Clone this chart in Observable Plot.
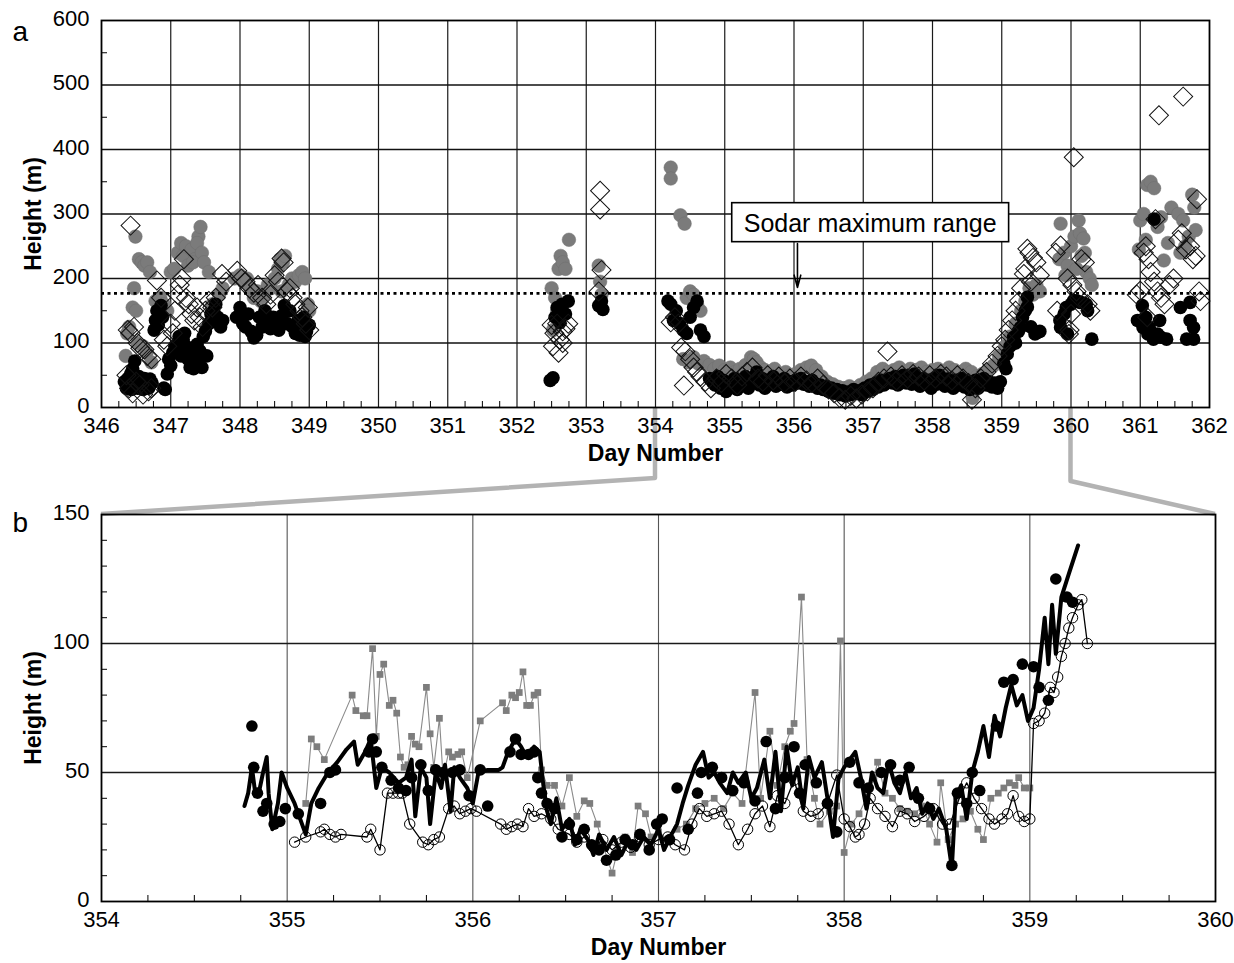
<!DOCTYPE html>
<html>
<head>
<meta charset="utf-8">
<script src="https://cdn.jsdelivr.net/npm/d3@7"></script>
<script src="https://cdn.jsdelivr.net/npm/@observablehq/plot@0.6"></script>
<style>
  body { margin: 0; background: #fff; }
  #fig { position: relative; width: 1234px; height: 963px; background: #fff; font-family: "Liberation Sans", Arial, sans-serif; }
  #fig svg { position: absolute; left: 0; }
</style>
</head>
<body>
<div id="fig"></div>
<script>
// ---- Panel a: daily heights, day 346–362 ----
const aGray = [
  [346.35,80],[346.37,115],[346.40,125],[346.45,155],[346.47,185],[346.50,150],[346.49,265],[346.54,230],[346.58,225],[346.62,220],
  [346.66,225],[346.70,210],[346.52,100],[346.60,95],[346.65,85],[346.72,70],[346.78,165],[346.85,170],[346.90,160],[346.95,150],
  [347.00,210],[347.05,215],[347.10,240],[347.15,255],[347.18,235],[347.22,250],[347.25,220],[347.30,245],[347.35,230],[347.40,265],
  [347.43,280],[347.38,255],[347.32,225],[347.45,240],[347.48,225],[347.55,210],[347.60,160],[347.70,175],[347.75,185],
  [347.92,200],[348.00,205],[348.05,195],[348.10,200],[348.15,185],[348.20,170],[348.25,180],[348.30,165],[348.35,175],[348.40,190],
  [348.45,185],[348.50,200],[348.55,215],[348.58,230],[348.62,225],[348.65,235],[348.70,190],[348.75,200],[348.80,195],[348.85,205],
  [348.90,210],[348.94,200],[348.98,160],[349.00,150],[348.60,180],
  [352.50,185],[352.52,120],[352.55,170],[352.60,215],[352.63,235],[352.66,225],[352.70,215],[352.75,260],[352.58,150],
  [353.18,220],[353.20,195],[353.22,175],
  [354.22,372],[354.22,355],[354.36,298],[354.42,285],[354.45,170],[354.50,180],[354.55,175],[354.60,160],[354.65,150],
  [354.40,75],[354.48,70],[354.55,78],
  [354.62,68],[354.70,72],[354.78,66],[354.85,60],[354.92,65],[355.00,58],[355.08,62],[355.15,55],[355.22,60],[355.30,66],
  [355.38,78],[355.42,75],[355.46,70],[355.52,62],[355.58,58],[355.65,55],[355.72,60],[355.80,52],[355.88,55],[355.95,50],
  [356.02,52],[356.10,58],[356.18,62],[356.25,65],[356.32,58],[356.40,48],[356.48,40],[356.56,36],[356.64,32],[356.72,30],
  [356.80,33],[356.88,30],[356.96,35],[357.04,40],[357.12,45],[357.20,55],[357.28,60],[357.36,55],[357.44,58],[357.52,62],
  [357.60,55],[357.68,60],[357.76,58],[357.84,62],[357.92,55],[358.00,58],[358.08,60],[358.16,55],[358.24,62],[358.32,58],
  [358.40,55],[358.48,60],[358.56,55],[358.64,48],[358.58,15],[358.72,52],[358.80,58],[358.88,65],[358.96,80],
  [359.05,95],[359.12,110],[359.20,130],[359.28,150],[359.34,165],[359.40,185],[359.45,175],[359.50,190],[359.55,180],
  [359.85,285],[359.83,230],[359.90,240],[359.95,220],[360.00,250],[360.05,265],[360.11,290],[360.13,270],[360.18,262],[360.15,235],
  [360.20,240],[360.22,210],[360.27,200],[360.30,190],[360.08,215],[359.92,205],
  [361.00,290],[361.05,300],[361.10,345],[361.15,350],[361.20,340],[361.25,280],[361.30,295],[361.34,228],[361.40,255],[361.45,310],
  [361.55,300],[361.62,290],[361.70,265],[361.75,330],[361.78,310],[361.80,275],[361.65,250],[361.58,240],[360.98,245],[361.08,260]
];

const aBlack = [
  [346.33,40],[346.36,30],[346.38,45],[346.40,35],[346.42,52],[346.43,28],[346.45,60],[346.46,38],[346.48,72],[346.50,42],
  [346.52,30],[346.54,48],[346.56,35],[346.58,40],[346.60,28],[346.62,45],[346.65,36],[346.68,30],[346.70,44],[346.73,38],
  [346.76,120],[346.78,135],[346.80,150],[346.82,128],[346.84,145],[346.86,158],[346.88,140],[346.90,30],[346.92,28],[346.95,52],
  [346.97,75],[347.00,65],[347.03,85],[347.06,95],[347.10,100],[347.12,110],[347.15,80],[347.18,105],[347.20,115],[347.22,95],
  [347.25,75],[347.28,62],[347.30,85],[347.33,60],[347.36,65],[347.38,98],[347.40,72],[347.42,88],[347.45,62],[347.47,110],
  [347.50,118],[347.52,80],[347.55,130],[347.58,145],[347.62,150],[347.65,160],[347.68,140],[347.72,125],[347.75,135],
  [347.95,140],[348.00,155],[348.04,130],[348.08,125],[348.12,145],[348.16,118],[348.20,108],[348.24,112],[348.28,140],[348.32,125],
  [348.36,150],[348.40,130],[348.44,122],[348.48,140],[348.52,135],[348.56,120],[348.60,142],[348.64,158],[348.68,130],[348.72,150],
  [348.76,125],[348.80,115],[348.84,135],[348.88,120],[348.92,140],[348.96,118],[349.00,128],[348.86,112],[348.94,110],
  [352.48,42],[352.52,46],[352.55,140],[352.58,155],[352.62,132],[352.65,160],[352.70,145],[352.74,165],
  [353.18,158],[353.22,165],[353.24,152],
  [354.18,165],[354.22,160],[354.26,135],[354.30,150],[354.35,130],[354.40,120],[354.45,115],[354.50,140],[354.55,155],[354.60,165],
  [354.65,120],[354.70,110],
  [354.78,45],[354.82,40],[354.86,35],[354.90,48],[354.94,30],[354.98,42],[355.02,25],[355.06,38],[355.10,32],[355.14,45],
  [355.18,28],[355.22,40],[355.26,35],[355.30,48],[355.34,30],[355.38,42],[355.42,38],[355.46,55],[355.50,35],[355.54,45],
  [355.58,30],[355.62,42],[355.66,38],[355.70,48],[355.74,33],[355.78,40],[355.82,36],[355.86,45],[355.90,32],[355.94,40],
  [355.98,35],[356.02,42],[356.06,38],[356.10,45],[356.14,36],[356.18,40],[356.22,33],[356.26,42],[356.30,37],[356.34,30],
  [356.38,35],[356.42,28],[356.46,32],[356.50,25],[356.54,30],[356.58,22],[356.62,28],[356.66,20],[356.70,26],[356.74,18],
  [356.78,24],[356.82,20],[356.86,28],[356.90,22],[356.94,26],[356.98,20],[357.02,30],[357.06,25],[357.10,35],[357.14,28],
  [357.18,38],[357.22,32],[357.26,42],[357.30,35],[357.34,40],[357.38,45],[357.42,38],[357.46,48],[357.50,35],[357.54,42],
  [357.58,50],[357.62,38],[357.66,45],[357.70,36],[357.74,52],[357.78,40],[357.82,33],[357.86,45],[357.90,38],[357.94,42],
  [357.98,30],[358.02,45],[358.06,36],[358.10,50],[358.14,40],[358.18,33],[358.22,44],[358.26,38],[358.30,30],[358.34,42],
  [358.38,35],[358.42,45],[358.46,32],[358.50,40],[358.54,28],[358.58,36],[358.62,42],[358.66,30],[358.70,38],[358.74,45],
  [358.78,35],[358.82,40],[358.86,32],[358.90,38],[358.94,30],[358.98,40],
  [359.03,68],[359.06,60],[359.08,83],[359.12,95],[359.17,109],[359.20,100],[359.24,118],[359.27,124],[359.30,140],[359.34,150],
  [359.37,156],[359.37,171],[359.42,125],[359.48,114],[359.51,116],[359.55,118],
  [359.85,124],[359.84,135],[359.90,145],[359.93,155],[359.95,114],[360.00,160],[360.04,166],[360.09,165],[360.13,163],[360.18,162],
  [360.22,160],[360.24,150],[360.30,106],
  [360.96,135],[361.03,158],[361.04,124],[361.08,140],[361.11,114],[361.13,124],[361.19,106],[361.20,292],[361.25,114],[361.28,135],
  [361.30,109],[361.38,106],[361.58,155],[361.67,106],[361.72,163],[361.72,135],[361.77,124],[361.77,106]
];

const aDiamond = [
  [346.42,282],[346.36,50],[346.40,30],[346.45,22],[346.50,40],[346.55,35],[346.60,20],[346.68,25],[346.72,30],[346.38,120],
  [346.42,115],[346.47,125],[346.52,100],[346.56,92],[346.62,90],[346.66,80],[346.72,75],[346.80,197],[346.86,170],[346.90,105],
  [346.95,95],[347.00,130],[347.03,115],[347.06,150],[347.10,175],[347.13,190],[347.16,200],[347.19,230],[347.22,170],[347.26,160],
  [347.30,145],[347.34,135],[347.38,155],[347.42,140],[347.46,125],[347.50,150],[347.55,165],[347.60,155],[347.65,170],[347.74,207],
  [347.80,195],
  [347.96,212],[348.02,200],[348.08,195],[348.14,185],[348.20,178],[348.26,190],[348.32,170],[348.38,160],[348.44,175],[348.50,205],
  [348.55,195],[348.60,231],[348.63,225],[348.68,180],[348.72,185],[348.76,170],[348.80,160],[348.86,150],[348.90,140],[348.95,130],
  [349.00,120],[348.98,155],
  [352.50,128],[352.54,115],[352.58,130],[352.62,105],[352.66,118],[352.70,122],[352.74,130],[352.52,95],[352.60,85],[352.66,100],
  [353.20,336],[353.20,307],[353.22,213],[353.18,180],
  [354.22,132],[354.28,140],[354.33,130],[354.37,93],[354.43,87],[354.41,34],[354.50,75],[354.55,62],[354.60,55],
  [354.65,48],[354.72,40],[354.80,30],[354.88,45],[354.95,38],[355.02,52],[355.10,45],[355.18,35],[355.25,48],[355.32,55],
  [355.40,62],[355.48,45],[355.55,40],[355.62,50],[355.70,42],[355.78,48],[355.86,38],[355.94,45],[356.02,40],[356.10,48],
  [356.18,42],[356.26,38],[356.34,45],[356.42,35],[356.50,28],[356.58,22],[356.66,15],[356.74,12],[356.82,18],[356.90,14],
  [356.98,20],[357.06,25],[357.14,30],[357.22,40],[357.30,45],[357.35,87],[357.40,48],[357.48,42],[357.56,50],[357.64,45],
  [357.72,52],[357.80,48],[357.88,42],[357.96,50],[358.04,45],[358.12,52],[358.20,48],[358.28,42],[358.36,50],[358.44,45],
  [358.52,38],[358.57,12],[358.62,30],[358.70,45],[358.78,55],[358.86,68],[358.94,80],
  [359.00,95],[359.05,105],[359.10,120],[359.15,135],[359.20,150],[359.25,165],[359.28,185],[359.32,207],[359.34,215],[359.37,246],
  [359.40,240],[359.45,232],[359.50,225],[359.42,195],[359.55,205],
  [359.78,240],[359.85,251],[359.95,200],[360.02,190],[360.04,388],[360.08,180],[360.12,170],[360.15,230],[360.20,225],[360.24,160],
  [360.28,150],[359.97,114],[359.98,120],[359.80,150],[360.00,145],
  [360.95,175],[361.00,181],[361.05,240],[361.08,250],[361.12,230],[361.15,210],[361.20,195],[361.25,180],[361.27,453],[361.30,170],
  [361.35,160],[361.42,190],[361.48,200],[361.55,260],[361.60,270],[361.62,482],[361.66,245],[361.72,250],[361.76,230],[361.80,235],
  [361.82,323],[361.85,180],[361.87,165],[361.10,140],[361.22,292]
];

// ---- Panel b: detail, day 354–360 ----
const bGray = [
  [355.10,38],[355.13,63],[355.16,60],[355.20,55],[355.35,80],[355.37,74],[355.41,72],[355.43,72],[355.46,98],[355.48,64],
  [355.50,88],[355.52,92],[355.55,76],[355.57,78],[355.59,73],[355.61,56],[355.63,52],[355.65,53],[355.67,64],[355.69,61],
  [355.71,60],[355.75,83],[355.77,65],[355.79,52],[355.82,71],[355.84,48],[355.87,58],[355.89,56],[355.92,57],[355.94,58],
  [355.97,48],[356.04,70],[356.16,77],[356.18,74],[356.21,80],[356.23,79],[356.25,81],[356.27,89],[356.29,76],[356.31,76],
  [356.33,80],[356.35,81],[356.37,51],[356.40,45],[356.44,45],[356.48,37],[356.52,48],[356.56,33],[356.60,39],[356.63,38],
  [356.67,30],[356.70,22],[356.75,11],[356.78,20],[356.82,25],[356.86,19],[356.89,37],[356.93,34],[356.96,25],[357.00,27],
  [357.05,24],[357.10,28],[357.15,30],[357.20,36],[357.25,38],[357.30,40],[357.35,36],[357.40,42],[357.45,38],[357.52,81],
  [357.55,40],[357.60,66],[357.64,45],[357.68,60],[357.71,66],[357.73,69],[357.77,118],[357.80,55],[357.84,40],[357.87,30],
  [357.92,35],[357.96,37],[357.98,101],[358.00,19],[358.04,30],[358.08,34],[358.12,40],[358.16,48],[358.18,54],[358.22,42],
  [358.26,40],[358.30,36],[358.34,35],[358.38,34],[358.42,37],[358.46,30],[358.50,23],[358.52,46],[358.56,24],[358.60,30],
  [358.64,32],[358.68,35],[358.72,28],[358.75,24],[358.79,40],[358.83,42],[358.86,44],[358.89,46],[358.92,45],[358.94,48],
  [358.97,44],[359.00,44]
];

const bLine = [
  [354.77,37],[354.79,42],[354.81,52],[354.83,41],[354.85,43],[354.87,50],[354.89,56],[354.90,42],[354.92,28],[354.95,38],
  [354.97,50],[355.00,44],[355.04,38],[355.08,30],[355.10,26],[355.13,38],[355.17,44],[355.22,50],[355.27,54],[355.32,59],
  [355.36,62],[355.38,53],[355.42,58],[355.45,63],[355.48,44],[355.51,52],[355.55,50],[355.60,46],[355.64,48],[355.67,55],
  [355.69,33],[355.72,52],[355.75,48],[355.77,30],[355.80,50],[355.83,44],[355.85,53],[355.88,35],[355.90,52],[355.93,48],
  [355.97,44],[356.00,38],[356.03,50],[356.08,51],[356.14,51],[356.16,52],[356.19,58],[356.23,63],[356.26,60],[356.29,56],
  [356.33,60],[356.36,58],[356.38,45],[356.40,35],[356.42,30],[356.45,40],[356.48,28],[356.52,32],[356.55,22],[356.58,28],
  [356.62,24],[356.65,18],[356.68,26],[356.72,20],[356.76,25],[356.80,18],[356.84,24],[356.88,20],[356.92,25],[356.96,22],
  [357.00,28],[357.03,20],[357.07,26],[357.10,30],[357.13,38],[357.16,45],[357.20,53],[357.24,58],[357.27,48],[357.30,50],
  [357.33,46],[357.37,42],[357.40,50],[357.43,46],[357.47,50],[357.50,40],[357.53,44],[357.57,55],[357.60,40],[357.63,58],
  [357.66,35],[357.69,60],[357.72,45],[357.75,52],[357.78,36],[357.81,56],[357.84,48],[357.88,54],[357.91,40],[357.94,25],
  [357.97,48],[358.00,52],[358.03,55],[358.06,58],[358.09,48],[358.12,36],[358.15,50],[358.18,44],[358.21,42],[358.24,54],
  [358.27,46],[358.30,42],[358.33,50],[358.36,40],[358.39,44],[358.42,34],[358.45,38],[358.48,32],[358.51,36],[358.55,28],
  [358.58,13],[358.60,40],[358.63,45],[358.66,32],[358.69,50],[358.72,58],[358.75,68],[358.78,56],[358.81,72],[358.84,64],
  [358.87,75],[358.90,84],[358.93,76],[358.96,80],[358.99,70],[359.02,75],[359.05,90],[359.08,110],[359.10,92],[359.12,115],
  [359.14,96],[359.17,118],[359.21,127],[359.26,138]
];

const bDots = [
  [354.81,68],[354.82,52],[354.84,42],[354.87,35],[354.89,38],[354.93,30],[354.96,31],[354.99,36],[355.06,34],[355.18,38],
  [355.23,50],[355.26,51],[355.44,58],[355.46,63],[355.48,58],[355.51,52],[355.56,47],[355.60,44],[355.64,43],[355.67,48],
  [355.72,53],[355.76,43],[355.80,51],[355.84,50],[355.89,50],[355.93,51],[355.98,41],[356.04,51],[356.08,37],[356.20,58],
  [356.23,63],[356.26,57],[356.30,57],[356.33,58],[356.35,48],[356.37,42],[356.40,38],[356.44,36],[356.48,25],[356.52,30],
  [356.56,24],[356.60,28],[356.64,22],[356.68,20],[356.72,16],[356.77,18],[356.82,24],[356.86,22],[356.90,26],[356.95,20],
  [356.99,30],[357.02,32],[357.06,24],[357.10,44],[357.16,28],[357.21,42],[357.23,50],[357.29,52],[357.34,48],[357.40,43],
  [357.46,46],[357.52,39],[357.58,62],[357.63,36],[357.68,48],[357.73,60],[357.76,42],[357.79,53],[357.85,46],[357.91,38],
  [357.96,27],[358.03,54],[358.08,46],[358.13,44],[358.20,50],[358.25,53],[358.30,47],[358.35,52],[358.40,40],[358.46,36],
  [358.58,14],[358.61,42],[358.66,38],[358.69,50],[358.73,43],[358.82,68],[358.86,85],[358.91,86],[358.96,92],[359.02,91],
  [359.05,83],[359.10,78],[359.14,125],[359.20,118],[359.23,116]
];

const bOpen = [
  [355.04,23],[355.10,25],[355.18,27],[355.20,28],[355.23,26],[355.26,25],[355.29,26],[355.43,25],[355.45,28],[355.50,20],
  [355.54,42],[355.57,42],[355.60,42],[355.62,42],[355.66,30],[355.73,23],[355.76,22],[355.79,24],[355.82,25],[355.87,36],
  [355.90,37],[355.93,34],[355.96,35],[355.99,36],[356.02,35],[356.15,30],[356.18,28],[356.21,29],[356.24,30],[356.27,29],
  [356.30,36],[356.33,33],[356.37,34],[356.42,32],[356.46,28],[356.52,26],[356.56,23],[356.60,25],[356.65,21],[356.70,24],
  [356.75,20],[356.80,23],[356.85,21],[356.90,25],[356.95,22],[357.00,24],[357.05,25],[357.09,22],[357.14,20],[357.18,30],
  [357.22,36],[357.26,33],[357.30,34],[357.34,35],[357.38,30],[357.43,22],[357.48,28],[357.52,34],[357.56,37],[357.60,29],
  [357.64,41],[357.68,38],[357.73,47],[357.78,35],[357.82,33],[357.86,34],[357.91,38],[357.96,49],[358.00,32],[358.03,29],
  [358.06,25],[358.08,26],[358.11,30],[358.14,40],[358.18,36],[358.22,33],[358.26,29],[358.30,35],[358.34,34],[358.38,31],
  [358.43,33],[358.48,36],[358.53,30],[358.57,30],[358.62,40],[358.66,46],[358.70,40],[358.74,36],[358.78,32],[358.81,30],
  [358.85,32],[358.88,34],[358.91,41],[358.94,33],[358.97,31],[359.00,32],[359.02,69],[359.05,70],[359.08,73],[359.11,83],
  [359.13,81],[359.15,87],[359.17,95],[359.19,100],[359.21,106],[359.23,110],[359.26,115],[359.28,117],[359.31,100]
];

// Axis ticks and reference values
const dayTicksA = [346,347,348,349,350,351,352,353,354,355,356,357,358,359,360,361,362];
const heightTicksA = [0,100,200,300,400,500,600];
const dayTicksB = [354,355,356,357,358,359,360];
const heightTicksB = [0,50,100,150];
const sodarRange = 177;              // dotted line: sodar maximum range (m)
const noteText = "Sodar maximum range";
const noteDay = 356.05, noteLabelDay = 357.1, noteLabelHeight = 285, noteArrowFrom = 254, noteArrowTo = 186;
const zoomDays = [354, 360];          // span shown in panel b

const font = '"Liberation Sans", Arial, Helvetica, sans-serif';
const quarterA = d3.range(346, 362.001, 0.25).filter(d => d % 1 !== 0);
const halfHeightsA = d3.range(50, 600, 100);
const quarterB = d3.range(354, 360.001, 0.25).filter(d => d % 1 !== 0);
const tenHeightsB = d3.range(10, 150, 10).filter(d => d % 50 !== 0);

const fig = document.getElementById("fig");
const X = d => d[0], Y = d => d[1];
const tickFont = 22, labelFont = 23;

// ---- Panel a ----
const A = {width: 1234, height: 470, top: 0, ml: 101, mr: 25, mt: 20, mb: 63};
const innerHA = A.height - A.mt - A.mb, innerWA = A.width - A.ml - A.mr;
const plotA = Plot.plot({
  width: A.width, height: A.height,
  marginLeft: A.ml, marginRight: A.mr, marginTop: A.mt, marginBottom: A.mb,
  style: {background: "transparent", fontFamily: font, overflow: "visible", color: "#000"},
  x: {domain: [346, 362], label: null},
  y: {domain: [0, 600], label: null},
  marks: [
    Plot.gridX(dayTicksA.slice(1, -1), {stroke: "#1a1a1a", strokeOpacity: 1, strokeWidth: 1.2}),
    Plot.gridY(heightTicksA.slice(1, -1), {stroke: "#111", strokeOpacity: 1, strokeWidth: 1.4}),
    Plot.ruleX(quarterA, {x: d => d, insetTop: innerHA - 6, stroke: "#000", strokeWidth: 1}),
    Plot.ruleY(halfHeightsA, {y: d => d, insetRight: innerWA - 6, stroke: "#000", strokeWidth: 1}),
    Plot.dot(aGray, {x: X, y: Y, r: 6.8, fill: "#7b7b7b", stroke: "#6e6e6e", strokeWidth: 0.5}),
    Plot.dot(aBlack, {x: X, y: Y, r: 6.8, fill: "#000"}),
    Plot.dot(aDiamond, {x: X, y: Y, r: 7.6, symbol: "square", rotate: 45, fill: "none", stroke: "#111", strokeWidth: 1}),
    Plot.ruleY([sodarRange], {stroke: "#000", strokeWidth: 2.8, strokeDasharray: "3,3.5"}),
    Plot.arrow([0], {x1: noteDay, x2: noteDay, y1: noteArrowFrom, y2: noteArrowTo, stroke: "#000", strokeWidth: 1.6, headLength: 12, headAngle: 30}),
    Plot.text([noteText], {x: noteLabelDay, y: noteLabelHeight, fontSize: 25, fill: "#000"}),
    Plot.frame({stroke: "#000", strokeWidth: 1.8}),
    Plot.axisX(dayTicksA, {tickSize: 0, tickPadding: 10, fontSize: tickFont, label: null, tickFormat: d => String(d)}),
    Plot.axisY(heightTicksA, {tickSize: 0, tickPadding: 12, dy: -2, fontSize: tickFont, label: null, tickFormat: d => String(d)}),
    Plot.text(["Day Number"], {frameAnchor: "bottom", dy: 53, fontSize: labelFont, fontWeight: "bold", fill: "#000"}),
    Plot.text(["Height (m)"], {frameAnchor: "left", textAnchor: "middle", dx: -68, rotate: -90, fontSize: labelFont, fontWeight: "bold", fill: "#000"}),
    Plot.text(["a"], {frameAnchor: "top-left", dx: -89, dy: 1, fontSize: 28, fill: "#000"})
  ]
});

// ---- Panel b ----
const B = {width: 1234, height: 473, top: 490, ml: 101, mr: 19, mt: 24, mb: 62};
const innerHB = B.height - B.mt - B.mb, innerWB = B.width - B.ml - B.mr;
const plotB = Plot.plot({
  width: B.width, height: B.height,
  marginLeft: B.ml, marginRight: B.mr, marginTop: B.mt, marginBottom: B.mb,
  style: {background: "transparent", fontFamily: font, overflow: "visible", color: "#000"},
  x: {domain: zoomDays, label: null},
  y: {domain: [0, 150], label: null},
  marks: [
    Plot.gridX(dayTicksB.slice(1, -1), {stroke: "#555", strokeOpacity: 1, strokeWidth: 1.1}),
    Plot.gridY(heightTicksB.slice(1, -1), {stroke: "#1a1a1a", strokeOpacity: 1, strokeWidth: 1.6}),
    Plot.ruleX(quarterB, {x: d => d, insetTop: innerHB - 6, stroke: "#000", strokeWidth: 1}),
    Plot.ruleY(tenHeightsB, {y: d => d, insetRight: innerWB - 6, stroke: "#000", strokeWidth: 1}),
    Plot.line(bGray, {x: X, y: Y, stroke: "#8a8a8a", strokeWidth: 1.1}),
    Plot.dot(bGray, {x: X, y: Y, r: 3.8, symbol: "square", fill: "#7d7d7d"}),
    Plot.line(bLine, {x: X, y: Y, stroke: "#000", strokeWidth: 4}),
    Plot.dot(bDots, {x: X, y: Y, r: 5.8, fill: "#000"}),
    Plot.line(bOpen, {x: X, y: Y, stroke: "#000", strokeWidth: 1.3}),
    Plot.dot(bOpen, {x: X, y: Y, r: 5.2, fill: "none", stroke: "#000", strokeWidth: 1}),
    Plot.frame({stroke: "#000", strokeWidth: 1.8}),
    Plot.axisX(dayTicksB, {tickSize: 0, tickPadding: 10, fontSize: tickFont, label: null, tickFormat: d => String(d)}),
    Plot.axisY(heightTicksB, {tickSize: 0, tickPadding: 12, dy: -2, fontSize: tickFont, label: null, tickFormat: d => String(d)}),
    Plot.text(["Day Number"], {frameAnchor: "bottom", dy: 53, fontSize: labelFont, fontWeight: "bold", fill: "#000"}),
    Plot.text(["Height (m)"], {frameAnchor: "left", textAnchor: "middle", dx: -68, rotate: -90, fontSize: labelFont, fontWeight: "bold", fill: "#000"}),
    Plot.text(["b"], {frameAnchor: "top-left", dx: -89, dy: -2, fontSize: 28, fill: "#000"})
  ]
});

// Connector from panel a's day axis down to panel b's frame (drawn underneath both panels)
const links = d3.create("svg").attr("width", 1234).attr("height", 963).style("top", "0px");
fig.appendChild(links.node());
plotA.style.top = A.top + "px";
plotB.style.top = B.top + "px";
fig.appendChild(plotA);
fig.appendChild(plotB);

const xa = plotA.scale("x"), ya = plotA.scale("y");
const xb = plotB.scale("x"), yb = plotB.scale("y");
const bendY = [478, 481];
zoomDays.forEach((day, i) => {
  const pts = [
    [xa.apply(day), A.top + ya.apply(0)],
    [xa.apply(day), bendY[i]],
    [xb.apply(day), B.top + yb.apply(150)]
  ];
  links.append("path")
    .attr("d", d3.line()(pts))
    .attr("fill", "none")
    .attr("stroke", "#b3b3b3")
    .attr("stroke-width", 4.5)
    .attr("stroke-linejoin", "round");
});

// White box behind the sodar-range note (same transform as its text)
d3.select(plotA).selectAll("text")
  .filter(function () { return this.textContent === noteText; })
  .each(function () {
    const bb = this.getBBox();
    d3.select(this.parentNode).insert("rect", () => this)
      .attr("transform", this.getAttribute("transform"))
      .attr("x", bb.x - 12).attr("y", bb.y - 6)
      .attr("width", bb.width + 24).attr("height", bb.height + 11)
      .attr("fill", "#fff").attr("stroke", "#000").attr("stroke-width", 1.6);
  });
</script>
</body>
</html>
